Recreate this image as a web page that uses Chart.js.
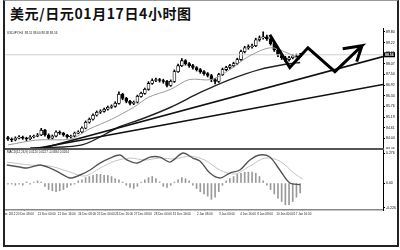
<!DOCTYPE html>
<html>
<head>
<meta charset="utf-8">
<script src="https://cdn.jsdelivr.net/npm/chart.js@4.4.0/dist/chart.umd.min.js"></script>
<style>
    body { margin: 0; width: 400px; height: 250px; background: #fff; position: relative; overflow: hidden; }
    #frame { position: absolute; left: 3px; top: 0; width: 392px; height: 244px; border: 2px solid #222; border-top: 1px solid #999; }
    #title { position: absolute; left: 10px; top: 6px; font: bold 14px/14px "Noto Sans CJK SC"; letter-spacing: 0.6px; color: #111; white-space: nowrap; }
    #sep { position: absolute; left: 5px; top: 148px; width: 379px; height: 2px; background: #555; }
    canvas { position: absolute; }
    #main { left: 5px; top: 28px; }
    #macd { left: 5px; top: 150px; }
</style>
</head>
<body>
<div id="frame"></div>
<div id="title">美元/日元01月17日4小时图</div>
<canvas id="main" width="394" height="121"></canvas>
<div id="sep"></div>
<canvas id="macd" width="394" height="68"></canvas>
<script>
// 4H candles, index 0..79
const firstOpen = 84.08;
const closes = [84.00, 83.95, 84.05, 84.11, 84.05, 84.00, 84.11, 84.16, 84.22, 84.48,
    84.22, 84.05, 84.16, 84.38, 84.32, 84.22, 84.11, 84.16, 84.32, 84.38,
    84.59, 84.91, 85.07, 85.29, 85.45, 85.50, 85.61, 85.72, 85.77, 85.93,
    86.42, 86.20, 86.04, 85.93, 85.99, 86.31, 86.47, 86.69, 87.01, 87.17,
    87.22, 87.17, 87.12, 86.90, 87.12, 87.65, 87.97, 88.24, 88.08, 87.97,
    87.87, 87.76, 87.65, 87.54, 87.44, 87.22, 87.12, 87.49, 87.76, 87.87,
    87.97, 88.08, 88.30, 88.73, 88.94, 89.00, 89.05, 89.37, 89.48, 89.53,
    89.42, 89.16, 88.83, 88.56, 88.40, 88.30, 88.40, 88.51, 88.46, 88.56];
const highs = [84.15, 84.06, 84.12, 84.19, 84.16, 84.10, 84.18, 84.22, 84.30, 84.58,
    84.52, 84.28, 84.22, 84.45, 84.44, 84.36, 84.26, 84.22, 84.38, 84.45,
    84.66, 84.98, 85.14, 85.36, 85.52, 85.58, 85.68, 85.79, 85.85, 86.02,
    86.55, 86.48, 86.26, 86.10, 86.06, 86.38, 86.54, 86.76, 87.10, 87.26,
    87.30, 87.28, 87.24, 87.18, 87.20, 87.74, 88.06, 88.36, 88.30, 88.14,
    88.04, 87.92, 87.82, 87.70, 87.60, 87.50, 87.28, 87.56, 87.84, 87.94,
    88.04, 88.16, 88.38, 88.82, 89.02, 89.10, 89.14, 89.46, 89.58, 89.80,
    89.62, 89.48, 89.22, 88.90, 88.64, 88.48, 88.48, 88.58, 88.60, 88.64];
const lows = [83.92, 83.86, 83.90, 84.00, 83.98, 83.92, 83.96, 84.06, 84.12, 84.18,
    84.15, 83.98, 84.00, 84.12, 84.25, 84.15, 84.04, 84.05, 84.12, 84.28,
    84.33, 84.55, 84.86, 85.02, 85.24, 85.38, 85.45, 85.56, 85.66, 85.72,
    85.88, 86.12, 85.96, 85.84, 85.86, 85.95, 86.26, 86.42, 86.64, 86.96,
    87.10, 87.08, 87.02, 86.82, 86.85, 87.06, 87.60, 87.92, 88.00, 87.88,
    87.78, 87.68, 87.56, 87.46, 87.36, 87.10, 86.98, 87.06, 87.44, 87.70,
    87.80, 87.90, 88.02, 88.25, 88.66, 88.86, 88.92, 89.00, 89.30, 89.40,
    89.34, 89.08, 88.74, 88.46, 88.30, 88.18, 88.22, 88.34, 88.38, 88.40];

// moving averages (bar index / price)
const fastMaIdx = [0, 8, 17, 22, 28, 34, 38, 44, 49, 55, 60, 65, 71, 76, 79];
const fastMaVal = [83.68, 83.95, 84.00, 84.54, 85.07, 85.72, 86.26, 86.69, 87.22, 87.22, 87.76, 88.46, 88.94, 88.62, 88.30];
const slowMaIdx = [6, 20, 30, 36, 44, 52, 60, 68, 76, 79];
const slowMaVal = [83.52, 83.68, 84.65, 85.07, 85.72, 86.52, 87.22, 87.76, 88.08, 88.14];

// trend lines and the hand drawn zigzag arrow
const trendUpperIdx = [8.6, 101.4];
const trendUpperVal = [83.46, 88.46];
const trendLowerIdx = [6.8, 101.4];
const trendLowerVal = [83.46, 86.95];
const arrowIdx = [70.8, 76.2, 81.1, 88.4, 95.7, 90.5, 95.7, 94.3];
const arrowVal = [89.64, 87.87, 88.94, 87.65, 89.05, 88.89, 89.05, 88.19];

const currentPrice = 88.56;
const priceTicks = [89.80, 89.22, 88.65, 88.07, 87.50, 86.92, 86.34, 85.76, 85.19, 84.61, 84.04, 83.46];

// MACD panel
const histVal = [-0.01, -0.01, -0.02, -0.01, -0.02, 0.01, -0.01, 0.01, 0.02, 0.01,
    -0.03, -0.06, -0.07, -0.08, -0.07, -0.06, -0.04, -0.02, -0.01, 0.02,
    0.03, 0.05, 0.06, 0.07, 0.08, 0.08, 0.07, 0.07, 0.06, 0.04,
    0.03, 0.01, -0.02, -0.04, -0.05, -0.03, 0.01, 0.03, 0.05, 0.06,
    0.04, 0.01, -0.03, -0.04, -0.02, 0.01, 0.03, 0.05, 0.04, 0.02,
    -0.02, -0.05, -0.08, -0.10, -0.12, -0.15, -0.13, -0.08, -0.02, 0.02,
    0.04, 0.06, 0.08, 0.09, 0.10, 0.10, 0.10, 0.09, 0.06, 0.02,
    -0.02, -0.06, -0.10, -0.14, -0.17, -0.20, -0.20, -0.17, -0.13, -0.09];
const macdIdx = [-0.3, 3.2, 5.1, 8.6, 11.4, 14.1, 16.8, 19.5, 22.2, 24.9, 27.6, 30.3, 32.2, 34.9, 38.4,
    41.1, 43.8, 47.3, 50.0, 51.9, 54.6, 57.3, 60.0, 62.7, 65.4, 68.1, 70.8, 73.5, 76.2, 79.0];
const macdVal = [0.166, 0.147, 0.138, 0.166, 0.138, 0.092, 0.046, 0.074, 0.120, 0.184, 0.230, 0.258, 0.212, 0.184, 0.239,
    0.239, 0.193, 0.276, 0.230, 0.202, 0.092, 0.046, 0.092, 0.120, 0.212, 0.258, 0.239, 0.120, 0.000, -0.015];
const signalIdx = [-0.3, 5.9, 11.4, 16.8, 20.8, 24.9, 28.9, 33.0, 37.0, 41.1, 45.1, 49.2, 53.2, 57.3, 61.4, 65.4, 69.5, 73.5, 77.6, 79.7];
const signalVal = [0.193, 0.166, 0.156, 0.101, 0.064, 0.138, 0.202, 0.230, 0.212, 0.230, 0.221, 0.248, 0.212, 0.120, 0.083, 0.156, 0.230, 0.202, 0.083, 0.037];
const macdTicks = [0.276, 0, -0.226];
const macdTickLabels = ['0.276', '0.00', '-0.226'];

// time axis
const timeTickIdx = [-0.3, 4.6, 10.5, 15.9, 21.4, 26.5, 31.4, 36.5, 41.9, 47.0, 53.2, 59.2, 64.9, 69.5, 74.9, 79.7];
const timeTickLabels = ['19 Dec 2012', '20 Dec 08:00', '21 Dec 00:00', '21 Dec 16:00', '24 Dec 08:00', '25 Dec 00:00',
    '26 Dec 16:00', '27 Dec 08:00', '28 Dec 00:00', '31 Dec 16:00', '2 Jan 08:00', '3 Jan 00:00',
    '4 Jan 16:00', '8 Jan 08:00', '10 Jan 00:00', '17 Jan 16:00'];

const X_MIN = -0.8;
const X_MAX = 101.4;

Chart.defaults.font.family = '"Liberation Sans", sans-serif';

function pts(xs, ys) {
    return xs.map((x, i) => ({ x, y: ys[i] }));
}

const opens = closes.map((c, i) => i === 0 ? firstOpen : closes[i - 1]);
const bodies = closes.map((c, i) => ({ x: i, y: [opens[i], c] }));
const wicks = closes.map((c, i) => ({ x: i, y: [lows[i], highs[i]] }));

function line(data, color, width, order) {
    return { type: 'line', data, borderColor: color, borderWidth: width, pointRadius: 0, tension: 0.3, order, fill: false };
}

/**
 * Tiny legend text plus the current price box
 */
const mainExtras = {
    id: 'mainExtras',
    afterDraw(chart) {
        const { ctx, chartArea, scales } = chart;
        ctx.save();
        ctx.font = '3px "Liberation Sans"';
        ctx.fillStyle = '#222';
        ctx.textBaseline = 'top';
        ctx.fillText('USDJPY,H4  88.51 88.60 88.38 88.56', 2, 4);
        const y = scales.y.getPixelForValue(currentPrice);
        ctx.fillStyle = '#000';
        ctx.fillRect(chartArea.right + 1, y - 2.5, 11, 5);
        ctx.fillStyle = '#fff';
        ctx.font = 'bold 3.5px "Liberation Sans"';
        ctx.textBaseline = 'middle';
        ctx.fillText(currentPrice.toFixed(2), chartArea.right + 2, y);
        ctx.restore();
    }
};

const macdExtras = {
    id: 'macdExtras',
    afterDraw(chart) {
        const { ctx } = chart;
        ctx.save();
        ctx.font = '3px "Liberation Sans"';
        ctx.fillStyle = '#222';
        ctx.textBaseline = 'top';
        ctx.fillText('MACD(12,26,9) 0.0120 0.0227 -0.0384 0.0264', 2, 1);
        ctx.restore();
    }
};

// Main price panel
new Chart(document.getElementById('main'), {
    type: 'bar',
    data: {
        datasets: [
            { ...line(pts(arrowIdx, arrowVal), '#000', 3, 0), tension: 0, borderJoinStyle: 'miter' },
            { ...line(pts(trendUpperIdx, trendUpperVal), '#111', 1.6, 1), tension: 0 },
            { ...line(pts(trendLowerIdx, trendLowerVal), '#111', 1.6, 1), tension: 0 },
            line(pts(slowMaIdx, slowMaVal), '#222', 1.4, 2),
            line(pts(fastMaIdx, fastMaVal), '#9a9a9a', 1, 2),
            { ...line(pts([X_MIN, X_MAX], [currentPrice, currentPrice]), '#d0d0d0', 1, 4), tension: 0 },
            {
                type: 'bar', data: bodies, order: 5, grouped: false, barThickness: 3,
                backgroundColor: ctx => closes[ctx.dataIndex] >= opens[ctx.dataIndex] ? '#fff' : '#000',
                borderColor: '#000', borderWidth: 0.8, borderSkipped: false
            },
            { type: 'bar', data: wicks, order: 6, grouped: false, barThickness: 1, backgroundColor: '#000' }
        ]
    },
    options: {
        responsive: false,
        animation: false,
        layout: { padding: 0 },
        plugins: { legend: { display: false }, tooltip: { enabled: false } },
        scales: {
            x: { type: 'linear', min: X_MIN, max: X_MAX, offset: false, display: false },
            y: {
                position: 'right', min: 83.46, max: 90.01,
                afterBuildTicks: s => { s.ticks = priceTicks.map(v => ({ value: v })); },
                afterFit: s => { s.width = 16; s.paddingTop = 0; s.paddingBottom = 0; },
                grid: { drawOnChartArea: false, drawTicks: true, tickLength: 2, color: '#000' },
                border: { color: '#000', width: 1 },
                ticks: { font: { size: 3.5 }, color: '#000', padding: 1, autoSkip: false, callback: v => v.toFixed(2) }
            }
        }
    },
    plugins: [mainExtras]
});

// MACD panel with the time axis
new Chart(document.getElementById('macd'), {
    type: 'bar',
    data: {
        datasets: [
            line(pts(macdIdx, macdVal), '#555', 1.4, 0),
            line(pts(signalIdx, signalVal), '#c4c4c4', 1, 1),
            { type: 'bar', data: histVal.map((v, i) => ({ x: i, y: v })), order: 2, barThickness: 1, backgroundColor: '#999' }
        ]
    },
    options: {
        responsive: false,
        animation: false,
        layout: { padding: 0 },
        plugins: { legend: { display: false }, tooltip: { enabled: false } },
        scales: {
            x: {
                type: 'linear', min: X_MIN, max: X_MAX, offset: false,
                afterBuildTicks: s => { s.ticks = timeTickIdx.map(v => ({ value: v })); },
                afterFit: s => { s.height = 8; s.paddingLeft = 0; s.paddingRight = 0; },
                grid: { offset: false, drawOnChartArea: false, drawTicks: true, tickLength: 1, color: '#777' },
                border: { color: '#888', width: 1.5 },
                ticks: { font: { size: 3 }, color: '#222', padding: 1, maxRotation: 0, autoSkip: false,
                    callback: (v, i) => timeTickLabels[i] }
            },
            y: {
                position: 'right', min: -0.248, max: 0.304,
                afterBuildTicks: s => { s.ticks = macdTicks.map(v => ({ value: v })); },
                afterFit: s => { s.width = 16; s.paddingTop = 0; s.paddingBottom = 0; },
                grid: { drawOnChartArea: false, drawTicks: true, tickLength: 2, color: '#000' },
                border: { color: '#000', width: 1 },
                ticks: { font: { size: 3.5 }, color: '#000', padding: 1, autoSkip: false,
                    callback: (v, i) => macdTickLabels[i] }
            }
        }
    },
    plugins: [macdExtras]
});
</script>
</body>
</html>
